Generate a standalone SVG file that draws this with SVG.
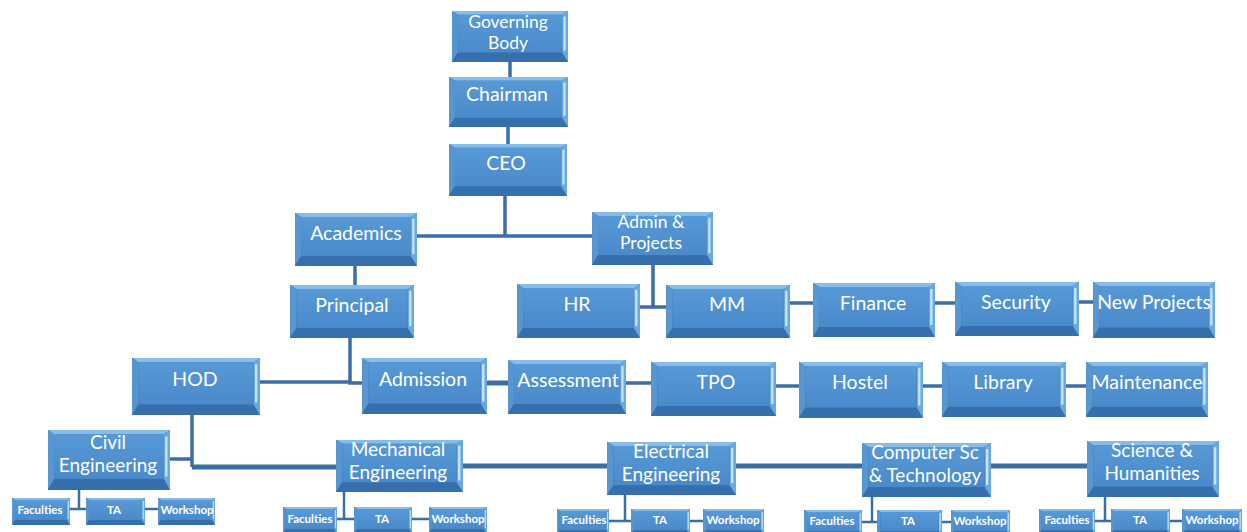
<svg xmlns="http://www.w3.org/2000/svg" width="1247" height="532" viewBox="0 0 1247 532">
<defs>
<linearGradient id="face" x1="0" y1="0" x2="0" y2="1">
<stop offset="0" stop-color="#5798d6"/>
<stop offset="1" stop-color="#4a8acb"/>
</linearGradient>
<symbol id="box" viewBox="0 0 120 54" preserveAspectRatio="none">
<rect x="0" y="0" width="120" height="54" fill="#2f6aa6"/>
<polygon points="0,0 120,0 114,4 6,4" fill="#86bde9"/>
<polygon points="0,0 6,4 6,44 0,54" fill="#5896d2"/>
<polygon points="0,54 6,44 114,44 120,54" fill="#3570ad"/>
<polygon points="120,0 114,4 114,44 120,54" fill="#6aa8df"/>
<rect x="6" y="4" width="108" height="40" fill="url(#face)"/>
<rect x="115.3" y="6" width="2.2" height="36" fill="#c6e6fb"/>
</symbol>
<style>
.t{font-family:Lato,"Open Sans","Liberation Sans",sans-serif;font-size:19.5px;fill:#ffffff;text-anchor:middle}
.t2{font-family:Lato,"Open Sans","Liberation Sans",sans-serif;font-size:17.5px;fill:#ffffff;text-anchor:middle}
.d{font-family:Lato,"Open Sans","Liberation Sans",sans-serif;font-size:19px;fill:#ffffff;text-anchor:middle}
.s{font-family:Lato,"Open Sans","Liberation Sans",sans-serif;font-size:11.5px;font-weight:700;fill:#ffffff;text-anchor:middle}
.c{fill:none;stroke:#3b6ea4;stroke-width:3.5}
.ct{fill:none;stroke:#3b6ea4;stroke-width:5}
.cs{fill:none;stroke:#3b6ea4;stroke-width:2.5}
</style>
</defs>
<rect width="1247" height="532" fill="#ffffff"/>
<g id="connectors">
<path class="c" d="M510,62 V77"/>
<path class="c" d="M508,127 V144"/>
<path class="c" d="M505,196 V236"/>
<path class="c" d="M417,236 H592"/>
<path class="c" d="M355,265 V285"/>
<path class="c" d="M350,338 V383 H362"/>
<path class="c" d="M260,382 H350"/>
<path class="ct" d="M487,383 H508"/>
<path class="c" d="M626,383 H651"/>
<path class="c" d="M776,386 H799"/>
<path class="c" d="M923,386 H942"/>
<path class="c" d="M1066,386 H1086"/>
<path class="c" d="M653,265 V307"/>
<path class="c" d="M640,307 H666"/>
<path class="c" d="M790,303 H813"/>
<path class="c" d="M935,303 H955"/>
<path class="c" d="M1079,302 H1096"/>
<path class="c" d="M192,415 V467"/>
<path class="c" d="M170,459 H192"/>
<path class="ct" d="M192,467 H336"/>
<path class="ct" d="M463,466 H607"/>
<path class="ct" d="M736,466 H862"/>
<path class="ct" d="M991,466 H1087"/>
<path class="cs" d="M79,490 V509"/>
<path class="cs" d="M70,509 H86"/>
<path class="cs" d="M145,509 H158"/>
<path class="cs" d="M344,492 V519"/>
<path class="cs" d="M337,519 H354"/>
<path class="cs" d="M412,519 H429"/>
<path class="cs" d="M625,495 V521"/>
<path class="cs" d="M609,521 H631"/>
<path class="cs" d="M690,521 H703"/>
<path class="cs" d="M872,497 V522"/>
<path class="cs" d="M862,522 H877"/>
<path class="cs" d="M942,522 H951"/>
<path class="cs" d="M1105,497 V521"/>
<path class="cs" d="M1095,521 H1111"/>
<path class="cs" d="M1170,521 H1182"/>
</g>
<g id="n-governing"><use href="#box" x="452" y="11" width="116" height="51"/><text class="t2" x="508" y="28">Governing</text><text class="t2" x="508" y="49">Body</text></g>
<g id="n-chairman"><use href="#box" x="449" y="77" width="119" height="50"/><text class="t" x="507" y="101">Chairman</text></g>
<g id="n-ceo"><use href="#box" x="449" y="144" width="118" height="52"/><text class="t" x="506" y="170">CEO</text></g>
<g id="n-academics"><use href="#box" x="295" y="213" width="122" height="53"/><text class="t" x="356" y="240">Academics</text></g>
<g id="n-admin"><use href="#box" x="592" y="212" width="121" height="53"/><text class="t2" x="651" y="228">Admin &amp;</text><text class="t2" x="651" y="249">Projects</text></g>
<g id="n-principal"><use href="#box" x="290" y="285" width="124" height="53"/><text class="t" x="352" y="312">Principal</text></g>
<g id="n-hr"><use href="#box" x="517" y="284" width="123" height="54"/><text class="t" x="577" y="311">HR</text></g>
<g id="n-mm"><use href="#box" x="666" y="285" width="124" height="53"/><text class="t" x="727" y="311">MM</text></g>
<g id="n-finance"><use href="#box" x="813" y="283" width="122" height="54"/><text class="t" x="873" y="310">Finance</text></g>
<g id="n-security"><use href="#box" x="955" y="282" width="124" height="54"/><text class="t" x="1016" y="309">Security</text></g>
<g id="n-newprojects"><use href="#box" x="1093" y="282" width="122" height="56"/><text class="t" x="1154" y="309">New Projects</text></g>
<g id="n-hod"><use href="#box" x="132" y="358" width="128" height="57"/><text class="t" x="195" y="386">HOD</text></g>
<g id="n-admission"><use href="#box" x="362" y="358" width="125" height="56"/><text class="t" x="423" y="386">Admission</text></g>
<g id="n-assessment"><use href="#box" x="508" y="360" width="118" height="54"/><text class="t" x="568" y="387">Assessment</text></g>
<g id="n-tpo"><use href="#box" x="651" y="362" width="125" height="54"/><text class="t" x="716" y="389">TPO</text></g>
<g id="n-hostel"><use href="#box" x="799" y="362" width="124" height="56"/><text class="t" x="860" y="389">Hostel</text></g>
<g id="n-library"><use href="#box" x="942" y="362" width="124" height="55"/><text class="t" x="1003" y="389">Library</text></g>
<g id="n-maintenance"><use href="#box" x="1086" y="362" width="122" height="55"/><text class="t" x="1147" y="389">Maintenance</text></g>
<g id="n-civil"><use href="#box" x="48" y="430" width="122" height="60"/><text class="d" x="108" y="449">Civil</text><text class="d" x="108" y="472">Engineering</text></g>
<g id="n-mech"><use href="#box" x="336" y="440" width="127" height="52"/><text class="d" x="398" y="456">Mechanical</text><text class="d" x="398" y="479">Engineering</text></g>
<g id="n-elec"><use href="#box" x="607" y="442" width="129" height="53"/><text class="d" x="671" y="458">Electrical</text><text class="d" x="671" y="481">Engineering</text></g>
<g id="n-cs"><use href="#box" x="862" y="443" width="129" height="54"/><text class="d" x="925" y="459">Computer Sc</text><text class="d" x="925" y="482">&amp; Technology</text></g>
<g id="n-sci"><use href="#box" x="1087" y="441" width="132" height="56"/><text class="d" x="1152" y="457">Science &amp;</text><text class="d" x="1152" y="480">Humanities</text></g>
<g id="n-civil-fac"><use href="#box" x="12" y="498" width="58" height="27"/><text class="s" x="40" y="514">Faculties</text></g>
<g id="n-civil-ta"><use href="#box" x="86" y="498" width="59" height="27"/><text class="s" x="114" y="514">TA</text></g>
<g id="n-civil-ws"><use href="#box" x="158" y="498" width="57" height="27"/><text class="s" x="187" y="514">Workshop</text></g>
<g id="n-mech-fac"><use href="#box" x="283" y="507" width="54" height="27"/><text class="s" x="310" y="523">Faculties</text></g>
<g id="n-mech-ta"><use href="#box" x="354" y="507" width="58" height="27"/><text class="s" x="382" y="523">TA</text></g>
<g id="n-mech-ws"><use href="#box" x="429" y="507" width="58" height="27"/><text class="s" x="458" y="523">Workshop</text></g>
<g id="n-elec-fac"><use href="#box" x="557" y="509" width="52" height="26"/><text class="s" x="584" y="524">Faculties</text></g>
<g id="n-elec-ta"><use href="#box" x="631" y="509" width="59" height="26"/><text class="s" x="660" y="524">TA</text></g>
<g id="n-elec-ws"><use href="#box" x="703" y="509" width="61" height="26"/><text class="s" x="733" y="524">Workshop</text></g>
<g id="n-cs-fac"><use href="#box" x="804" y="510" width="58" height="26"/><text class="s" x="832" y="525">Faculties</text></g>
<g id="n-cs-ta"><use href="#box" x="877" y="510" width="65" height="26"/><text class="s" x="908" y="525">TA</text></g>
<g id="n-cs-ws"><use href="#box" x="951" y="510" width="59" height="26"/><text class="s" x="980" y="525">Workshop</text></g>
<g id="n-sci-fac"><use href="#box" x="1039" y="509" width="56" height="26"/><text class="s" x="1067" y="524">Faculties</text></g>
<g id="n-sci-ta"><use href="#box" x="1111" y="509" width="59" height="26"/><text class="s" x="1140" y="524">TA</text></g>
<g id="n-sci-ws"><use href="#box" x="1182" y="509" width="60" height="26"/><text class="s" x="1212" y="524">Workshop</text></g>
</svg>
